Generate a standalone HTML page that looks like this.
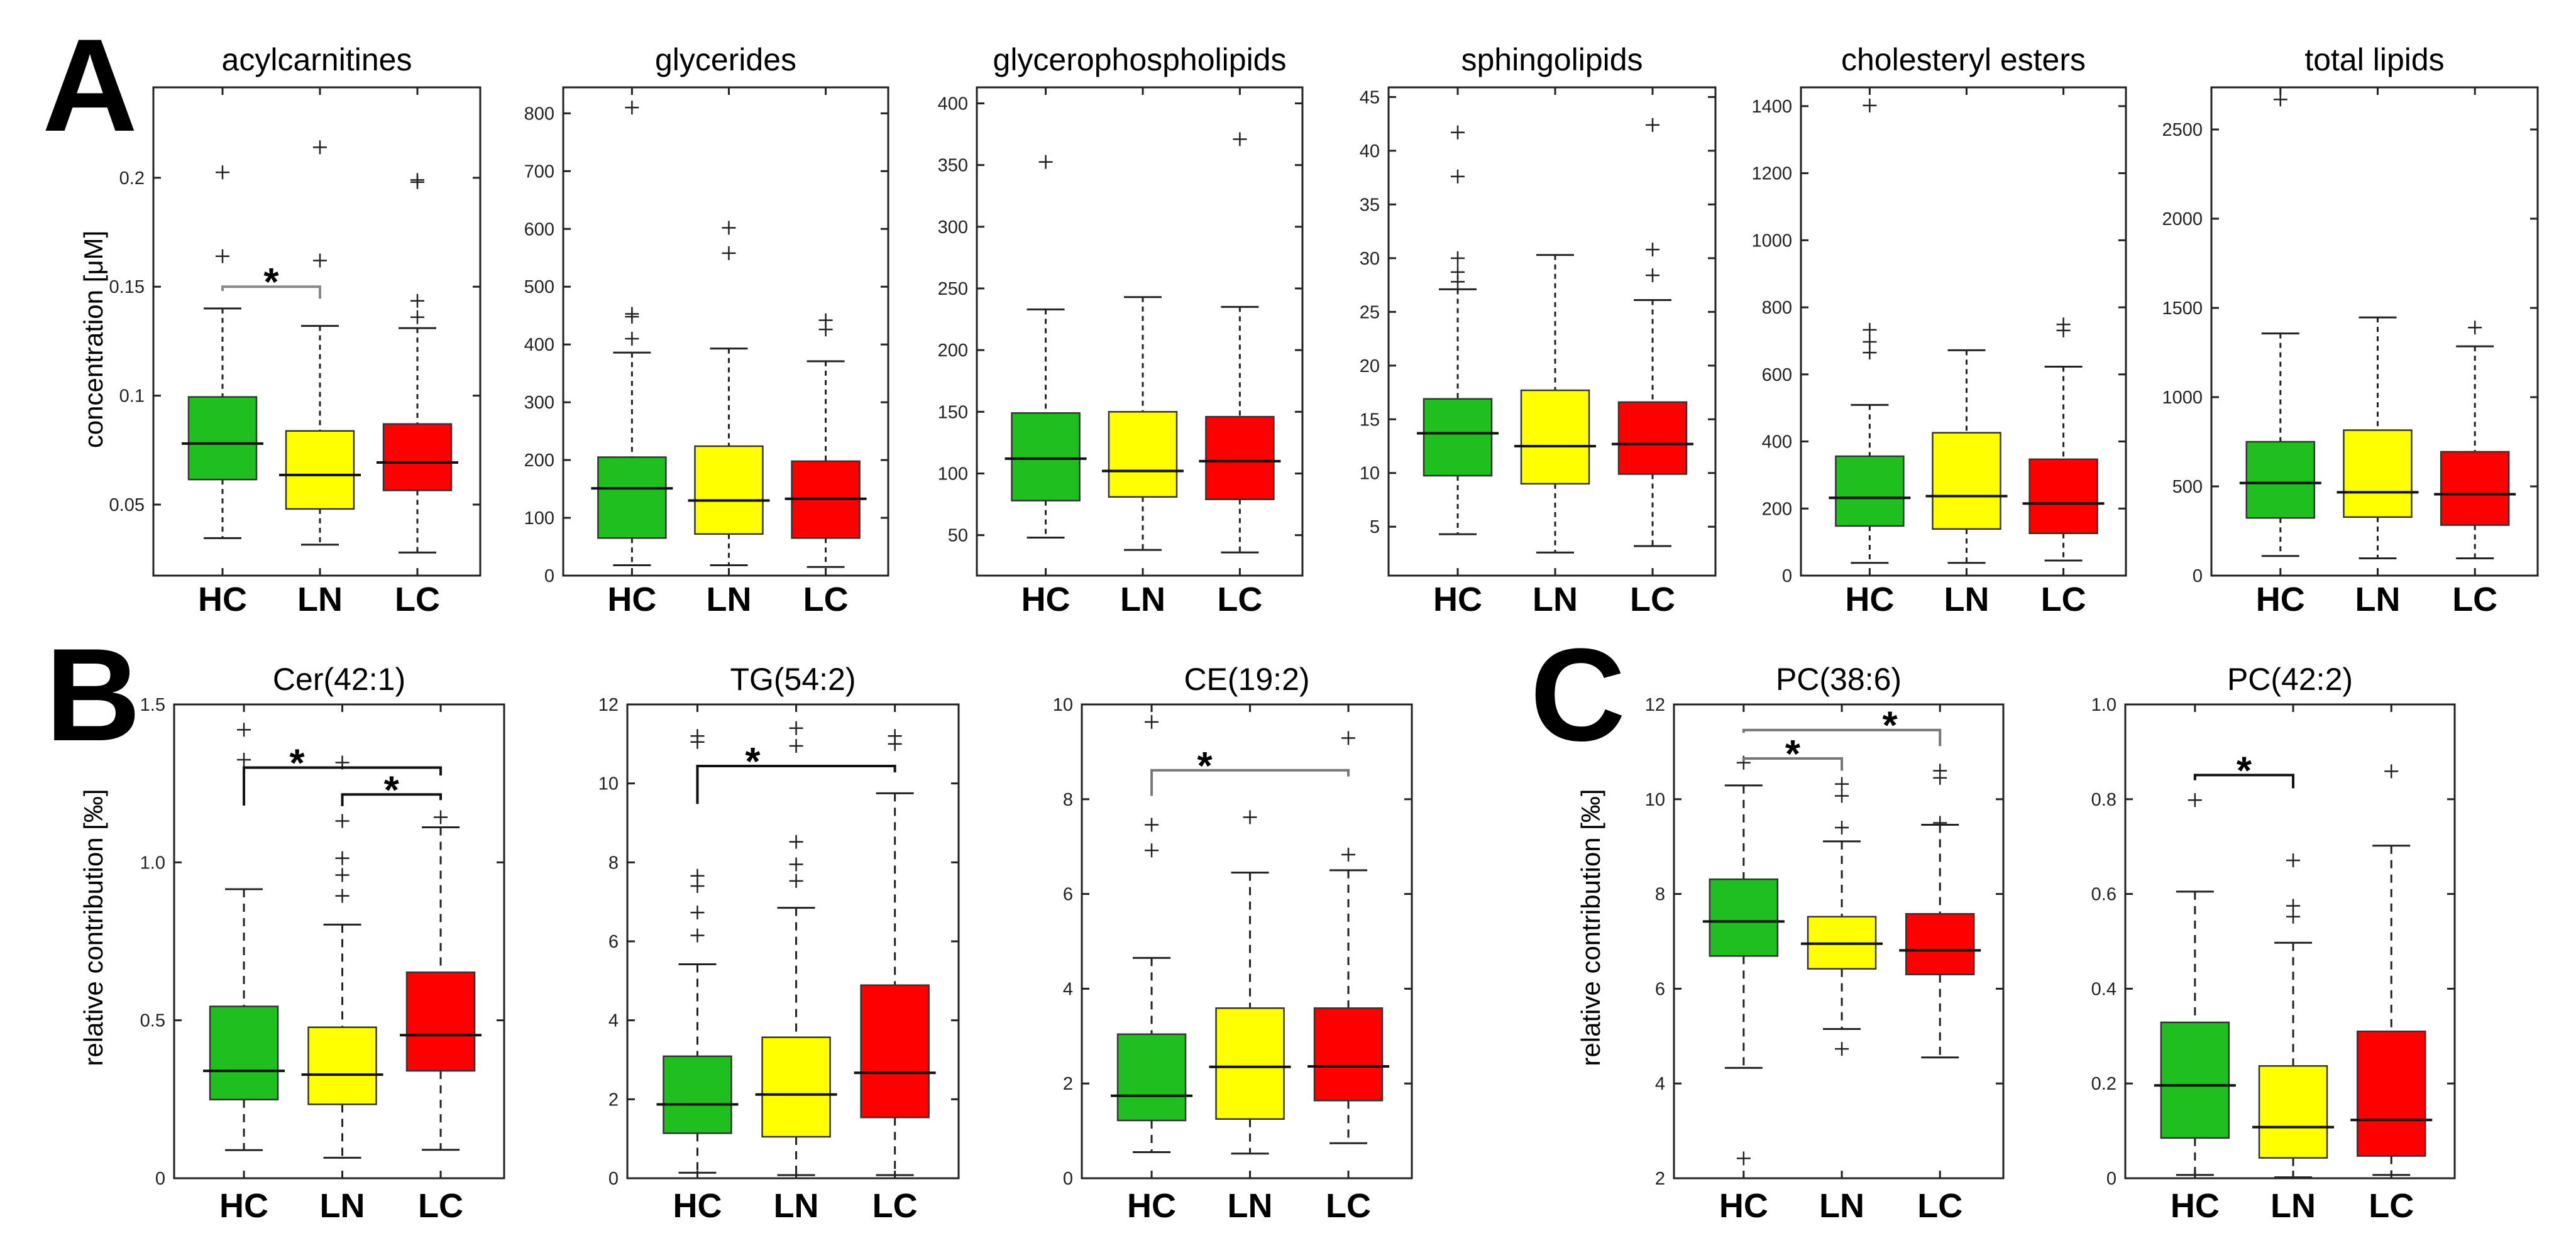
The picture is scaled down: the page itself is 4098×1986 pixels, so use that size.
<!DOCTYPE html>
<html><head><meta charset="utf-8">
<style>
html,body{margin:0;padding:0;background:#fff;}
svg{display:block;}
text{font-family:"Liberation Sans",sans-serif;}
</style></head>
<body>
<svg id="fig" width="4098" height="1986" viewBox="0 0 4098 1986" xmlns="http://www.w3.org/2000/svg">
<text x="143" y="208" font-size="210" font-weight="bold" text-anchor="middle">A</text>
<text x="148" y="1178" font-size="210" font-weight="bold" text-anchor="middle">B</text>
<text x="2510" y="1178" font-size="210" font-weight="bold" text-anchor="middle">C</text>
<text transform="translate(152,540) rotate(-90)" font-size="42" text-anchor="middle" dominant-baseline="middle">concentration [μM]</text>
<text transform="translate(152,1476) rotate(-90)" font-size="42" text-anchor="middle" dominant-baseline="middle">relative contribution [‰]</text>
<text transform="translate(2534,1476) rotate(-90)" font-size="42" text-anchor="middle" dominant-baseline="middle">relative contribution [‰]</text>
</svg>
<script>
const groups = ["HC","LN","LC"];

// acylcarnitines
const acylLo=[0.0346,0.0316,0.028], acylQ1=[0.0615,0.048,0.0565], acylMed=[0.078,0.0636,0.0693], acylQ3=[0.0994,0.0838,0.087], acylHi=[0.14,0.132,0.131];
const acylOut=[[0.2025,0.164],[0.214,0.162],[0.199,0.198,0.1435,0.136]];
const acylTicks=[0.05,0.1,0.15,0.2];
// glycerides
const glyLo=[18,18,15], glyQ1=[65,72,65], glyMed=[151,130,133], glyQ3=[205,224,198], glyHi=[386,393,371];
const glyOut=[[810,453,448,410],[602,558],[442,426]];
const glyTicks=[0,100,200,300,400,500,600,700,800];
// glycerophospholipids
const gplLo=[48,38,36], gplQ1=[78,81,79], gplMed=[112,102,110], gplQ3=[149,150,146], gplHi=[233,243,235];
const gplOut=[[352.5],[],[371]];
const gplTicks=[50,100,150,200,250,300,350,400];
// sphingolipids
const sphLo=[4.3,2.6,3.2], sphQ1=[9.75,9.0,9.9], sphMed=[13.7,12.5,12.7], sphQ3=[16.9,17.7,16.6], sphHi=[27.1,30.3,26.1];
const sphOut=[[41.7,37.6,30.0,28.7,27.8],[],[42.4,30.8,28.4]];
const sphTicks=[5,10,15,20,25,30,35,40,45];
// cholesteryl esters
const ceLo=[38,38,45], ceQ1=[148,139,126], ceMed=[232,237,215], ceQ3=[356,426,347], ceHi=[509,672,623];
const ceOut=[[1402,733,697,665],[],[749,731]];
const ceTicks=[0,200,400,600,800,1000,1200,1400];
// total lipids
const totLo=[110,97,97], totQ1=[323,328,283], totMed=[519,467,456], totQ3=[750,815,694], totHi=[1357,1447,1285];
const totOut=[[2668],[],[1390]];
const totTicks=[0,500,1000,1500,2000,2500];
// Cer(42:1)
const cerLo=[0.089,0.065,0.090], cerQ1=[0.249,0.234,0.340], cerMed=[0.340,0.328,0.453], cerQ3=[0.544,0.478,0.652], cerHi=[0.915,0.803,1.111];
const cerOut=[[1.42,1.325],[1.316,1.131,1.013,0.96,0.894],[1.143]];
const cerTicks=[0,0.5,1.0,1.5], cerTickLabels=["0","0.5","1.0","1.5"];
// TG(54:2)
const tgLo=[0.14,0.08,0.08], tgQ1=[1.14,1.05,1.54], tgMed=[1.87,2.12,2.67], tgQ3=[3.09,3.57,4.89], tgHi=[5.42,6.85,9.75];
const tgOut=[[11.2,11.05,7.66,7.4,6.73,6.15],[11.4,10.95,8.52,7.95,7.53],[11.2,11.0]];
const tgTicks=[0,2,4,6,8,10,12];
// CE(19:2)
const ce2Lo=[0.55,0.52,0.74], ce2Q1=[1.22,1.25,1.64], ce2Med=[1.74,2.35,2.36], ce2Q3=[3.04,3.59,3.59], ce2Hi=[4.65,6.45,6.5];
const ce2Out=[[9.63,7.46,6.92],[7.62],[9.29,6.83]];
const ce2Ticks=[0,2,4,6,8,10];
// PC(38:6)
const pc1Lo=[4.33,5.15,4.55], pc1Q1=[6.69,6.42,6.30], pc1Med=[7.42,6.95,6.81], pc1Q3=[8.31,7.52,7.58], pc1Hi=[10.29,9.11,9.46];
const pc1Out=[[10.77,2.42],[10.32,10.07,9.4,4.73],[10.6,10.45,9.5]];
const pc1Ticks=[2,4,6,8,10,12];
// PC(42:2)
const pc2Lo=[0.007,0.002,0.007], pc2Q1=[0.085,0.043,0.047], pc2Med=[0.196,0.108,0.123], pc2Q3=[0.329,0.237,0.31], pc2Hi=[0.605,0.497,0.702];
const pc2Out=[[0.798],[0.671,0.575,0.552],[0.859]];
const pc2Ticks=[0,0.2,0.4,0.6,0.8,1.0], pc2TickLabels=["0","0.2","0.4","0.6","0.8","1.0"];

// significance brackets: [group a, group b, bar level, leg a end, leg b end, star position (group units)]
const acylSig=[[0,1,0.150,0.148,0.1445,1.5]];
const cerSig=[[0,2,1.30,1.18,1.275,1.54],[1,2,1.215,1.178,1.197,2.5]];
const tgSig=[[0,2,10.44,9.48,10.28,1.56]];
const ce2Sig=[[0,2,8.61,8.07,8.48,1.54]];
const pc1Sig=[[0,1,10.86,10.8,10.6,1.5],[0,2,11.46,11.4,11.12,2.49]];
const pc2Sig=[[0,1,0.851,0.84,0.823,1.5]];

const NS="http://www.w3.org/2000/svg";
const svg=document.getElementById('fig');
const fillCols=["#1fbf1f","#ffff00","#ff0000"];

function mk(tag,attrs,parent){const e=document.createElementNS(NS,tag);for(const k in attrs)e.setAttribute(k,attrs[k]);(parent||svg).appendChild(e);return e;}

const panels=[
 {key:"acylcarnitines",title:"acylcarnitines",x0:244,x1:764,y0:139,y1:916,d:[0.0174,0.2415],ticks:acylTicks,tl:null,lo:acylLo,q1:acylQ1,med:acylMed,q3:acylQ3,hi:acylHi,out:acylOut,sig:acylSig,sigCol:"#888"},
 {key:"glycerides",title:"glycerides",x0:896,x1:1413,y0:139,y1:916,d:[0,845],ticks:glyTicks,tl:null,lo:glyLo,q1:glyQ1,med:glyMed,q3:glyQ3,hi:glyHi,out:glyOut,sig:[]},
 {key:"glycerophospholipids",title:"glycerophospholipids",x0:1554,x1:2072,y0:139,y1:916,d:[17.2,413],ticks:gplTicks,tl:null,lo:gplLo,q1:gplQ1,med:gplMed,q3:gplQ3,hi:gplHi,out:gplOut,sig:[]},
 {key:"sphingolipids",title:"sphingolipids",x0:2209,x1:2729,y0:139,y1:916,d:[0.45,45.9],ticks:sphTicks,tl:null,lo:sphLo,q1:sphQ1,med:sphMed,q3:sphQ3,hi:sphHi,out:sphOut,sig:[]},
 {key:"cholesteryl-esters",title:"cholesteryl esters",x0:2865,x1:3382,y0:139,y1:916,d:[0,1456],ticks:ceTicks,tl:null,lo:ceLo,q1:ceQ1,med:ceMed,q3:ceQ3,hi:ceHi,out:ceOut,sig:[]},
 {key:"total-lipids",title:"total lipids",x0:3518,x1:4037,y0:139,y1:916,d:[0,2736],ticks:totTicks,tl:null,lo:totLo,q1:totQ1,med:totMed,q3:totQ3,hi:totHi,out:totOut,sig:[]},
 {key:"cer-42-1",title:"Cer(42:1)",x0:277,x1:802,y0:1121,y1:1875,d:[0,1.5],ticks:cerTicks,tl:cerTickLabels,lo:cerLo,q1:cerQ1,med:cerMed,q3:cerQ3,hi:cerHi,out:cerOut,sig:cerSig,sigCol:"#111"},
 {key:"tg-54-2",title:"TG(54:2)",x0:998,x1:1525,y0:1121,y1:1875,d:[0,12],ticks:tgTicks,tl:null,lo:tgLo,q1:tgQ1,med:tgMed,q3:tgQ3,hi:tgHi,out:tgOut,sig:tgSig,sigCol:"#111"},
 {key:"ce-19-2",title:"CE(19:2)",x0:1721,x1:2246,y0:1121,y1:1875,d:[0,10],ticks:ce2Ticks,tl:null,lo:ce2Lo,q1:ce2Q1,med:ce2Med,q3:ce2Q3,hi:ce2Hi,out:ce2Out,sig:ce2Sig,sigCol:"#777"},
 {key:"pc-38-6",title:"PC(38:6)",x0:2663,x1:3187,y0:1121,y1:1875,d:[2,12],ticks:pc1Ticks,tl:null,lo:pc1Lo,q1:pc1Q1,med:pc1Med,q3:pc1Q3,hi:pc1Hi,out:pc1Out,sig:pc1Sig,sigCol:"#777"},
 {key:"pc-42-2",title:"PC(42:2)",x0:3381,x1:3905,y0:1121,y1:1875,d:[0,1],ticks:pc2Ticks,tl:pc2TickLabels,lo:pc2Lo,q1:pc2Q1,med:pc2Med,q3:pc2Q3,hi:pc2Hi,out:pc2Out,sig:pc2Sig,sigCol:"#111"}
];

panels.forEach(p=>{
  const W=p.x1-p.x0, H=p.y1-p.y0;
  const sp=W*155/520, off=W*110/520;
  const gx=u=>p.x0+off+(u-1)*sp;           // group units: 1,2,3
  const sy=v=>p.y1-(v-p.d[0])/(p.d[1]-p.d[0])*H;
  const rowA=p.y0<500;
  const g=mk('g',{});
  
  
  // title
  const t=mk('text',{x:(p.x0+p.x1)/2,y:rowA?112:1098,'font-size':50,'text-anchor':'middle'},g);
  t.textContent=p.title;
  
  
  // boxes
  groups.forEach((gn,i)=>{
    const cx=gx(i+1);
    const bg=mk('g',{},g);
    
    
    const dash=rowA?"8,7":"13,10";
    mk('line',{x1:cx,x2:cx,y1:sy(p.hi[i]),y2:sy(p.q3[i]),stroke:'#222','stroke-width':3,'stroke-dasharray':dash},bg);
    mk('line',{x1:cx,x2:cx,y1:sy(p.q1[i]),y2:sy(p.lo[i]),stroke:'#222','stroke-width':3,'stroke-dasharray':dash},bg);
    mk('line',{x1:cx-30,x2:cx+30,y1:sy(p.hi[i]),y2:sy(p.hi[i]),stroke:'#222','stroke-width':3},bg);
    mk('line',{x1:cx-30,x2:cx+30,y1:sy(p.lo[i]),y2:sy(p.lo[i]),stroke:'#222','stroke-width':3},bg);
    mk('rect',{x:cx-54,y:sy(p.q3[i]),width:108,height:sy(p.q1[i])-sy(p.q3[i]),fill:fillCols[i],stroke:'#333','stroke-width':2.5},bg);
    mk('line',{x1:cx-65,x2:cx+65,y1:sy(p.med[i]),y2:sy(p.med[i]),stroke:'#111','stroke-width':4},bg);
    p.out[i].forEach(v=>{
      const y=sy(v);
      const o=mk('path',{d:`M${cx-11},${y}H${cx+11}M${cx},${y-11}V${y+11}`,stroke:'#222','stroke-width':2.5,fill:'none'},bg);
      
      
    });
    const lb=mk('text',{x:cx,y:rowA?972:1937,'font-size':54,'font-weight':'bold','text-anchor':'middle'},g);
    lb.textContent=gn;
    
    
  });
  // axes frame
  const fr=mk('rect',{x:p.x0,y:p.y0,width:W,height:H,fill:'none',stroke:'#222','stroke-width':3},g);
  
  
  // y ticks
  p.ticks.forEach((v,k)=>{
    const y=sy(v);
    mk('line',{x1:p.x0,x2:p.x0+12,y1:y,y2:y,stroke:'#222','stroke-width':3},g);
    mk('line',{x1:p.x1-12,x2:p.x1,y1:y,y2:y,stroke:'#222','stroke-width':3},g);
    const tl=mk('text',{x:p.x0-14,y:y+10,'font-size':29,'text-anchor':'end',fill:'#222'},g);
    tl.textContent=p.tl?p.tl[k]:String(v);
    
    
  });
  // x ticks
  groups.forEach((gn,i)=>{
    const cx=gx(i+1);
    mk('line',{x1:cx,x2:cx,y1:p.y1,y2:p.y1-12,stroke:'#222','stroke-width':3},g);
    mk('line',{x1:cx,x2:cx,y1:p.y0,y2:p.y0+12,stroke:'#222','stroke-width':3},g);
  });
  // significance brackets
  p.sig.forEach(s=>{
    const xa=gx(s[0]+1), xb=gx(s[1]+1), yb=sy(s[2]);
    const br=mk('path',{d:`M${xa},${sy(s[3])}V${yb}H${xb}V${sy(s[4])}`,stroke:p.sigCol,'stroke-width':4,fill:'none'},g);
    
    
    const st=mk('text',{x:gx(s[5]),y:yb+14,'font-size':62,'font-weight':'bold','text-anchor':'middle'},g);
    st.textContent='*';
    
    
  });
});
</script>
</body></html>
